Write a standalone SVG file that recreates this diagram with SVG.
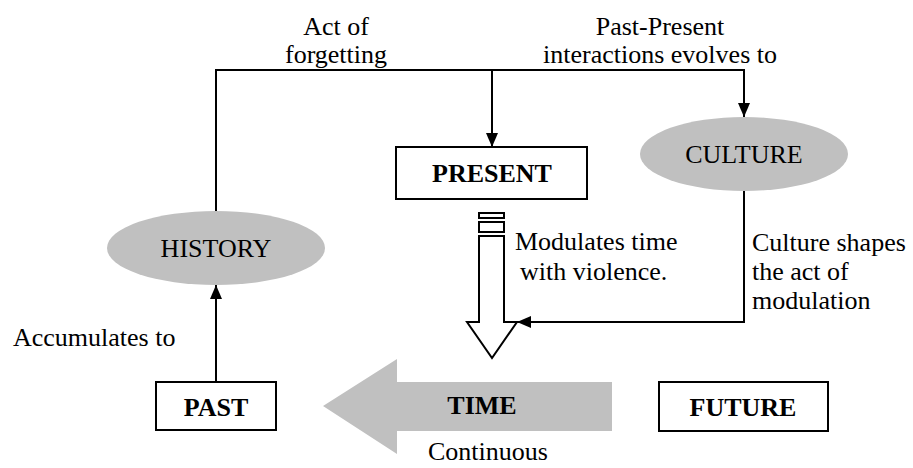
<svg xmlns="http://www.w3.org/2000/svg" width="913" height="468" viewBox="0 0 913 468">
<style>
text{font-family:"Liberation Serif","DejaVu Serif","Noto Serif",serif;font-size:26px;fill:#000}
.b{font-weight:bold}
.box{fill:#fff;stroke:#000;stroke-width:2}
.ell{fill:#c0c0c0}
.ln{fill:none;stroke:#000;stroke-width:2}
</style>
<defs>
<marker id="ah" viewBox="0 0 14 12" refX="14" refY="6" markerWidth="14" markerHeight="12" markerUnits="userSpaceOnUse" orient="auto">
<path d="M0,0L14,6L0,12Z" fill="#000"/>
</marker>
</defs>
<g id="connectors">
<path class="ln" d="M216,211V70H744V117" marker-end="url(#ah)"/>
<path class="ln" d="M492,70V147" marker-end="url(#ah)"/>
<path class="ln" d="M216,382V285" marker-end="url(#ah)"/>
<path class="ln" d="M744,191V322H517" marker-end="url(#ah)"/>
</g>
<g font-family="Liberation Serif, DejaVu Serif, serif">
<g id="history"><ellipse class="ell" cx="216" cy="248" rx="109" ry="37"/><text x="216" y="257" text-anchor="middle">HISTORY</text></g>
<g id="culture"><ellipse class="ell" cx="744" cy="154" rx="104" ry="37"/><text x="744" y="163" text-anchor="middle">CULTURE</text></g>
<g id="present"><rect class="box" x="396" y="147" width="191" height="52"/><text class="b" x="492" y="182" text-anchor="middle">PRESENT</text></g>
<g id="past"><rect class="box" x="156" y="382" width="120" height="48"/><text class="b" x="216" y="416" text-anchor="middle">PAST</text></g>
<g id="future"><rect class="box" x="659" y="382" width="169" height="49"/><text class="b" x="743" y="416" text-anchor="middle">FUTURE</text></g>
<g id="time"><path d="M612,382H397V359L323,406L397,454V431H612Z" fill="#c0c0c0"/><text class="b" x="482" y="414" text-anchor="middle">TIME</text></g>
<g id="modulation-arrow">
<rect class="ln" x="479" y="213" width="25" height="5" stroke-width="1.8"/>
<rect class="ln" x="479" y="222" width="25" height="10" stroke-width="1.8"/>
<path class="ln" d="M479,236V322H467L492,358L517,322H504V236Z"/>
</g>
<g id="labels">
<text x="336" y="35" text-anchor="middle">Act of</text>
<text x="336" y="63" text-anchor="middle">forgetting</text>
<text x="660" y="35" text-anchor="middle">Past-Present</text>
<text x="660" y="63" text-anchor="middle">interactions evolves to</text>
<text x="515" y="250">Modulates time</text>
<text x="520" y="280">with violence.</text>
<text x="752" y="251">Culture shapes</text>
<text x="752" y="280">the act of</text>
<text x="752" y="309">modulation</text>
<text x="13" y="346">Accumulates to</text>
<text x="488" y="460" text-anchor="middle">Continuous</text>
</g>
</g>
</svg>
